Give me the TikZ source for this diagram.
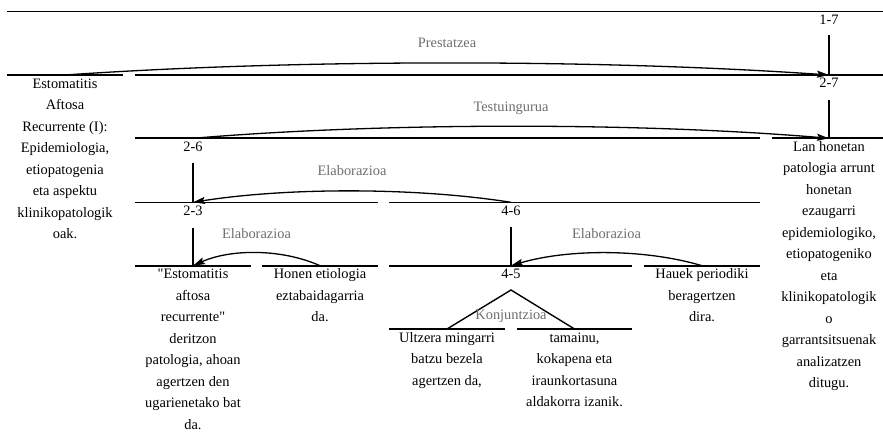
\documentclass[tikz,border=0pt]{standalone}
\usepackage{fontspec}
\setmainfont{Liberation Serif}[Ligatures=TeXOff]
\usetikzlibrary{arrows.meta}
\definecolor{relgray}{HTML}{6E6E6E}
\begin{document}
\begin{tikzpicture}[x=1pt,y=-1pt,
  seg/.style={line width=1.6pt},
  txt/.style={font=\fontsize{14.4}{21.5}\selectfont, align=center, inner sep=0pt, anchor=base},
  spanlbl/.style={font=\fontsize{14.4}{17}\selectfont, inner sep=0pt, anchor=base},
  rel/.style={font=\fontsize{14.4}{17}\selectfont, text=relgray, inner sep=0pt, anchor=base},
  relarc/.style={line width=1.3pt, -{Stealth[length=12pt,width=7pt,inset=2pt]}},
  stem/.style={line width=1.4pt}]
\useasboundingbox (0,0) rectangle (883,433);

% horizontal span lines
\draw[seg] (7,11.7) -- (883,11.7);
\draw[seg] (7,75) -- (123,75);
\draw[seg] (135,75) -- (883,75);
\draw[seg] (135,138.3) -- (760,138.3);
\draw[seg] (772,138.3) -- (883,138.3);
\draw[seg] (135,202.3) -- (378,202.3);
\draw[seg] (389,202.3) -- (760,202.3);
\draw[seg] (135,265.7) -- (251,265.7);
\draw[seg] (262,265.7) -- (378,265.7);
\draw[seg] (389,265.7) -- (632,265.7);
\draw[seg] (644,265.7) -- (760,265.7);
\draw[seg] (389,329) -- (505,329);
\draw[seg] (517,329) -- (632,329);

% anchor points on the lines
\coordinate (c0) at (65,75);
\coordinate (n27) at (829,75);
\coordinate (n26) at (193,138.3);
\coordinate (c6) at (829,138.3);
\coordinate (n23) at (193,202.3);
\coordinate (n46) at (511,202.3);
\coordinate (c1) at (193,265.7);
\coordinate (c2) at (320,265.7);
\coordinate (n45) at (511,265.7);
\coordinate (c5) at (702,265.7);
\coordinate (c3) at (447,329);
\coordinate (c4) at (574.5,329);

% span labels
\node[spanlbl] (s17) at (829,24.7) {1-7};
\node[spanlbl] (s27) at (829,88) {2-7};
\node[spanlbl] (s26) at (193,151.3) {2-6};
\node[spanlbl] (s23) at (193,215.3) {2-3};
\node[spanlbl] (s46) at (511,215.3) {4-6};
\node[spanlbl] (s45) at (511,278.7) {4-5};

% stems
\draw[stem] (s17.base) ++(0,10.5) -- (n27);
\draw[stem] (s27.base) ++(0,12) -- (c6);
\draw[stem] (s26.base) ++(0,11.5) -- (n23);
\draw[stem] (s23.base) ++(0,13) -- (c1);
\draw[stem] (s46.base) ++(0,11.5) -- (n45);
\coordinate (apex) at (511,290);
\draw[stem] (c3) -- (apex) -- (c4);

% relation arcs
\draw[relarc] (c0) .. controls +(230,-16) and +(-230,-16) .. (n27);
\draw[relarc] (n26) .. controls +(190,-16) and +(-190,-16) .. (c6);
\draw[relarc] (n46) .. controls +(-95,-15) and +(95,-15) .. (n23);
\draw[relarc] (c2) .. controls +(-38,-17) and +(38,-17) .. (c1);
\draw[relarc] (c5) .. controls +(-57,-17) and +(57,-17) .. (n45);

% relation labels
\node[rel] (rPrest) at (447,48) {Prestatzea};
\node[rel] (rTest) at (511,111.5) {Testuingurua};
\node[rel] (rElab1) at (352,175.3) {Elaborazioa};
\node[rel] (rElab2) at (256.5,238.7) {Elaborazioa};
\node[rel] (rElab3) at (606.5,238.7) {Elaborazioa};
\node[rel] (rKonj) at (511,319) {Konjuntzioa};

% leaf texts (node base = baseline of last line)
\node[txt] (t1) at (65,238.5) {Estomatitis\\Aftosa\\Recurrente (I):\\Epidemiologia,\\etiopatogenia\\eta aspektu\\klinikopatologik\\oak.};
\node[txt] (t7) at (829,387.8) {Lan honetan\\patologia arrunt\\honetan\\ezaugarri\\epidemiologiko,\\etiopatogeniko\\eta\\klinikopatologik\\o\\garrantsitsuenak\\analizatzen\\ditugu.};
\node[txt] (t2) at (193,429.2) {"Estomatitis\\aftosa\\recurrente"\\deritzon\\patologia, ahoan\\agertzen den\\ugarienetako bat\\da.};
\node[txt] (t3) at (320,321.7) {Honen etiologia\\eztabaidagarria\\da.};
\node[txt] (t6) at (702,321.7) {Hauek periodiki\\beragertzen\\dira.};
\node[txt] (t4) at (447,385) {Ultzera mingarri\\batzu bezela\\agertzen da,};
\node[txt] (t5) at (574.5,406.5) {tamainu,\\kokapena eta\\iraunkortasuna\\aldakorra izanik.};
\end{tikzpicture}
\end{document}
